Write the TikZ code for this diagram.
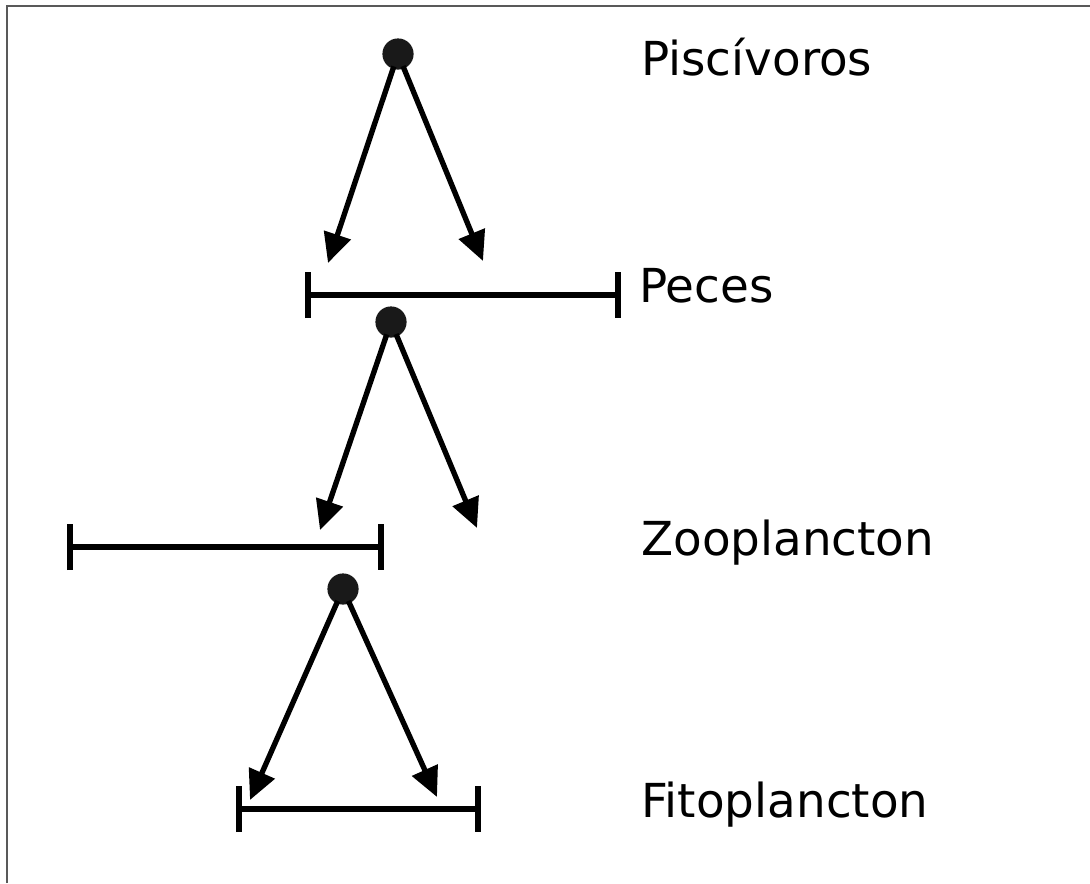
\documentclass[tikz,border=0pt]{standalone}
\usepackage{fontspec}
\setmainfont{DejaVu Sans}
\usetikzlibrary{arrows.meta}
\tikzset{
  punto/.style={circle, fill=black!90, inner sep=0pt, minimum size=0.78cm},
  flecha/.style={line width=3.8pt, -{Triangle[length=0.74cm,width=0.68cm]}, shorten <=-2pt},
  barra/.style={line width=4pt, {Bar[width=1.15cm]}-{Bar[width=1.15cm]}},
  etiqueta/.style={anchor=base west, inner sep=0pt, font=\fontsize{33.3}{40}\selectfont}
}
\begin{document}
\begin{tikzpicture}[x=0.025cm, y=-0.025cm]
    \useasboundingbox (0,0) rectangle (1090,883);
    % marco
    \draw[black!65, line width=1.8pt] (7,883) -- (7,6) -- (1090,6);

    % Piscívoros
    \node[punto] (p1) at (398,54) {};
    \coordinate (p1a) at (328,263);
    \coordinate (p1b) at (483,261);
    \draw[flecha] (p1) -- (p1a);
    \draw[flecha] (p1) -- (p1b);
    \node[etiqueta] (lpisc) at (641,75) {Piscívoros};

    % Peces
    \coordinate (b1l) at (305,295);
    \coordinate (b1r) at (621,295);
    \draw[barra] (b1l) -- (b1r);
    \node[etiqueta] (lpec) at (639,302) {Peces};
    \node[punto] (p2) at (391,322) {};
    \coordinate (p2a) at (320,530);
    \coordinate (p2b) at (477,528);
    \draw[flecha] (p2) -- (p2a);
    \draw[flecha] (p2) -- (p2b);

    % Zooplancton
    \coordinate (b2l) at (67,547);
    \coordinate (b2r) at (384,547);
    \draw[barra] (b2l) -- (b2r);
    \node[etiqueta] (lzoo) at (641,555) {Zooplancton};
    \node[punto] (p3) at (343,589) {};
    \coordinate (p3a) at (250,800);
    \coordinate (p3b) at (437,797);
    \draw[flecha] (p3) -- (p3a);
    \draw[flecha] (p3) -- (p3b);

    % Fitoplancton
    \coordinate (b3l) at (236,809);
    \coordinate (b3r) at (481,809);
    \draw[barra] (b3l) -- (b3r);
    \node[etiqueta] (lfito) at (641,817) {Fitoplancton};
\end{tikzpicture}
\end{document}
